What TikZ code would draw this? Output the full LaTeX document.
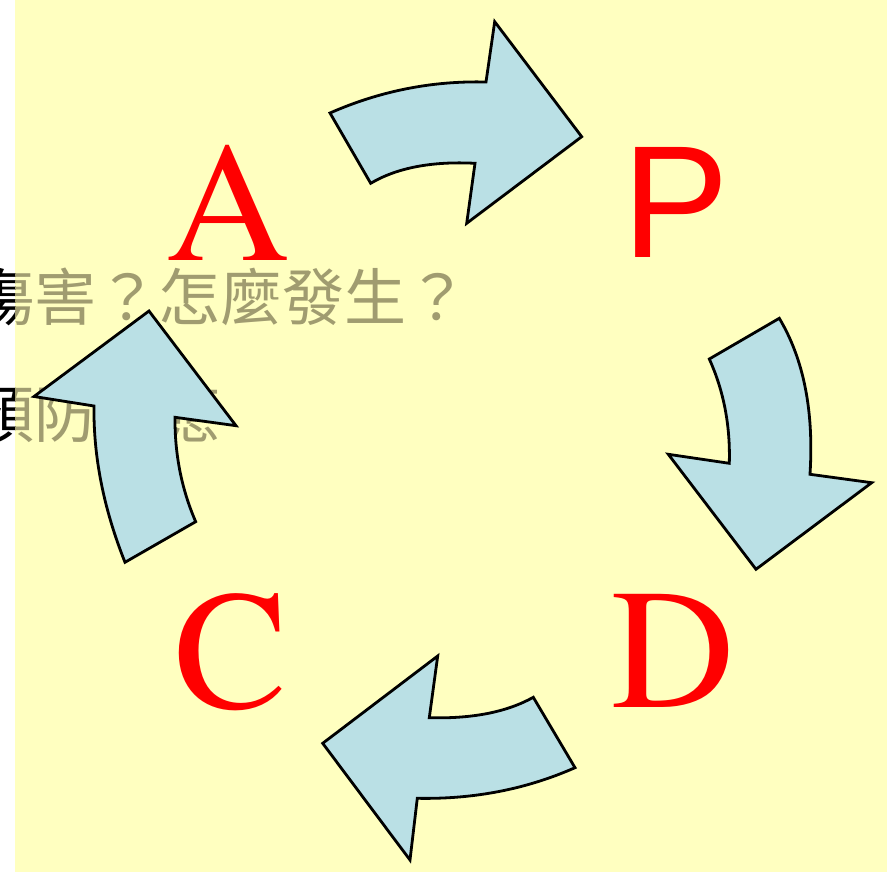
\documentclass[tikz,border=0pt]{standalone}
\usepackage{fontspec}
\newfontfamily\cjkfont{Noto Sans CJK TC}
\newfontfamily\arialfont{Liberation Sans}
\newfontfamily\termesfont{texgyretermes-regular.otf}
\definecolor{bgyellow}{RGB}{255,255,192}
\definecolor{arrowblue}{RGB}{186,224,229}
\definecolor{txtgray}{RGB}{160,156,112}
\tikzset{
  cyclearrow/.style={fill=arrowblue, draw=black, line width=2.8pt, line join=miter},
  bigletter/.style={text=red, inner sep=0pt, anchor=base},
  cjktext/.style={inner sep=0pt, anchor=base west, font=\cjkfont\fontsize{62}{62}\selectfont}
}
\begin{document}
\begin{tikzpicture}[x=1pt,y=-1pt]
\useasboundingbox (0,0) rectangle (887,872);
\fill[white] (0,0) rectangle (887,872);
\fill[bgyellow] (15,0) rectangle (887,872);
% text, black on the white strip
\begin{scope}
\clip (0,0) rectangle (15,872);
\node[cjktext, text=black] (l1b) at (-28,320) {傷害？怎麼發生？};
\node[cjktext, text=black] (l2b) at (-28,437) {預防因應};
\end{scope}
% text, grey on the yellow
\begin{scope}
\clip (15,0) rectangle (887,872);
\node[cjktext, text=txtgray] (l1) at (-28,320) {傷害？怎麼發生？};
\node[cjktext, text=txtgray] (l2) at (-28,437) {預防因應};
\end{scope}
% top arrow
\draw[cyclearrow] (330,113) .. controls (380,91) and (432,80.7) .. (486,82)
  -- (494.7,21.7) -- (581.7,136.7) -- (466.7,223.3) -- (475,163.3)
  .. controls (431.7,161.1) and (396.9,167.8) .. (370.7,183.3) -- cycle;
% right arrow
\draw[cyclearrow] (709.3,359) -- (779.3,318.3)
  .. controls (803.8,359.4) and (814,411.4) .. (810,474.3)
  -- (871.7,482.7) -- (756,569.3) -- (668.3,454.3) -- (729.3,463.3)
  .. controls (730.4,425.8) and (723.8,391) .. (709.3,359) -- cycle;
% bottom arrow
\draw[cyclearrow] (533.3,697.3) -- (575,767.7)
  .. controls (526.3,789.2) and (473.8,799.4) .. (417.3,798.3)
  -- (410,860) -- (322.7,743.3) -- (437.7,656) -- (429.3,717.7)
  .. controls (472.1,718.9) and (506.8,712.1) .. (533.3,697.3) -- cycle;
% left arrow
\draw[cyclearrow] (125,562.3) -- (195.7,521.7)
  .. controls (181.6,489.2) and (174.7,454.4) .. (175,417.3)
  -- (236,425.7) -- (149,311) -- (34,396.5) -- (94,406)
  .. controls (93.3,456.7) and (103.7,508.8) .. (125,562.3) -- cycle;
% letters
\node[bigletter, font=\termesfont\fontsize{171}{171}\selectfont] (A) at (228.5,261) {A};
\node[bigletter, font=\arialfont\fontsize{160}{160}\selectfont] (P) at (676,257) {P};
\node[bigletter, font=\termesfont\fontsize{170}{170}\selectfont] (C) at (231,708) {C};
\node[bigletter, font=\termesfont\fontsize{171}{171}\selectfont] (D) at (673,707) {D};
\end{tikzpicture}
\end{document}
